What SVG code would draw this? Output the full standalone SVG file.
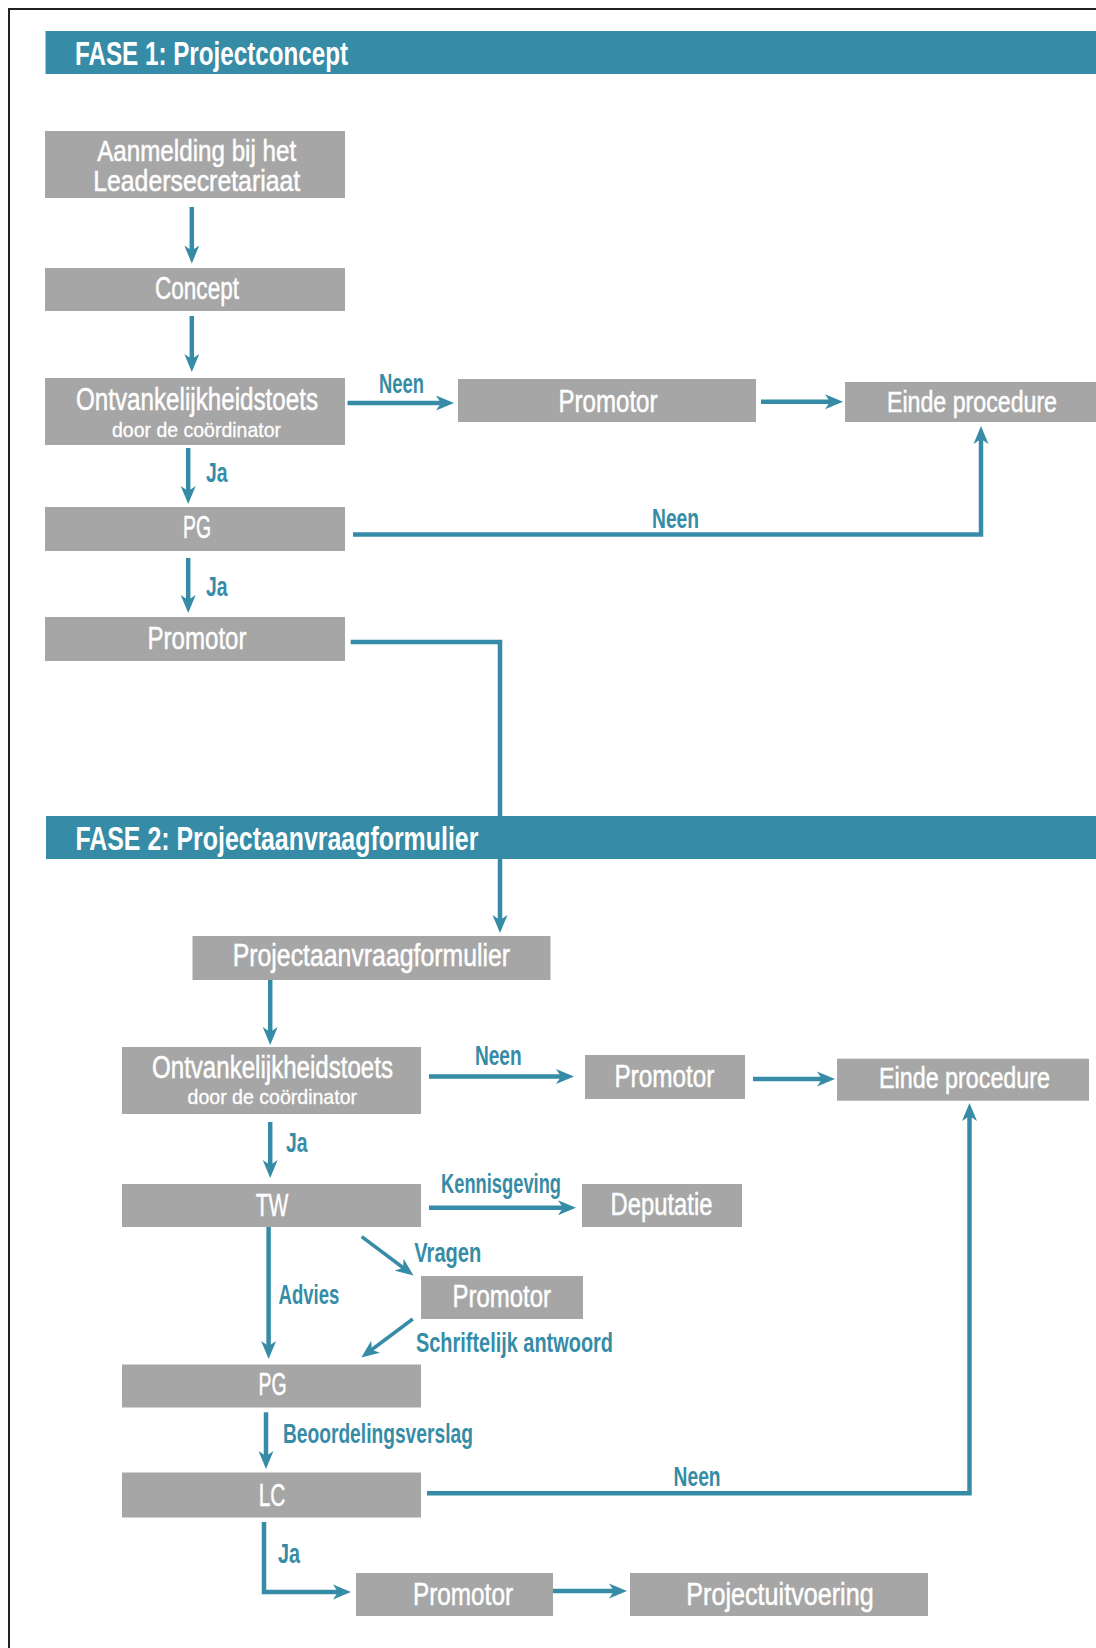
<svg xmlns="http://www.w3.org/2000/svg" width="1096" height="1648" viewBox="0 0 1096 1648">
  <defs>
    <style>
      .banner { fill: #368ca6; }
      .node rect { fill: #a6a6a6; }
      .title { fill: #ffffff; font-family: "Liberation Sans", Arial, sans-serif; font-weight: bold; font-size: 34px; }
      .t { fill: #ffffff; stroke: #ffffff; stroke-width: 0.5; font-family: "Liberation Sans", Arial, sans-serif; font-size: 31px; text-anchor: middle; }
      .t2 { fill: #ffffff; stroke: #ffffff; stroke-width: 0.5; font-family: "Liberation Sans", Arial, sans-serif; font-size: 29px; text-anchor: middle; }
      .e { fill: #ffffff; stroke: #ffffff; stroke-width: 0.5; font-family: "Liberation Sans", Arial, sans-serif; font-size: 29px; text-anchor: middle; }
      .s { fill: #ffffff; stroke: #ffffff; stroke-width: 0.3; font-family: "Liberation Sans", Arial, sans-serif; font-size: 21px; text-anchor: middle; }
      .lbl { fill: #368ca6; font-family: "Liberation Sans", Arial, sans-serif; font-weight: bold; font-size: 27px; }
      .c { fill: none; stroke: #368ca6; stroke-width: 4.5; stroke-linejoin: miter; marker-end: url(#ah); }
      .d { fill: none; stroke: #368ca6; stroke-width: 3.5; marker-end: url(#ah); }
    </style>
    <marker id="ah" markerUnits="userSpaceOnUse" markerWidth="20" markerHeight="16" refX="8" refY="8" orient="auto">
      <path d="M0,0.5 L18,8 L0,15.5 L5,8 Z" fill="#368ca6"/>
    </marker>
  </defs>

  <rect x="0" y="0" width="1096" height="1648" fill="#ffffff"/>
  <rect x="9" y="9" width="1100" height="1650" fill="none" stroke="#222222" stroke-width="2"/>

  <g id="fase1">
    <rect class="banner" x="45.5" y="31" width="1060" height="43"/>
    <text class="title" x="75" y="65" textLength="273" lengthAdjust="spacingAndGlyphs">FASE 1: Projectconcept</text>
  </g>
  <g id="fase2">
    <rect class="banner" x="46" y="816" width="1060" height="43"/>
    <text class="title" x="75.4" y="850" textLength="403" lengthAdjust="spacingAndGlyphs">FASE 2: Projectaanvraagformulier</text>
  </g>

  <g id="connectors">
    <path class="c" d="M191.8,207 V253.5"/>
    <path class="c" d="M191.8,316 V362"/>
    <path class="c" d="M347.5,403 H444"/>
    <path class="c" d="M761,401.7 H833"/>
    <path class="c" d="M188.2,448 V494"/>
    <path class="c" d="M353,534.5 H981 V436"/>
    <path class="c" d="M188.2,558 V603"/>
    <path class="c" d="M350.7,642 H500 V923"/>
    <path class="c" d="M270.2,980 V1035"/>
    <path class="c" d="M429,1076.5 H564"/>
    <path class="c" d="M753,1079 H825"/>
    <path class="c" d="M270.2,1122 V1168"/>
    <path class="c" d="M429,1207.7 H566"/>
    <path class="c" d="M268.6,1227 V1349"/>
    <path class="d" d="M361.7,1236.7 L405.5,1269.5"/>
    <path class="d" d="M412.8,1319 L369.3,1351.5"/>
    <path class="c" d="M266,1412.3 V1459"/>
    <path class="c" d="M427,1493.3 H969.5 V1113"/>
    <path class="c" d="M264,1522 V1592 H341"/>
    <path class="c" d="M553,1591 H617"/>

    <text class="lbl" x="379" y="392.7" textLength="45" lengthAdjust="spacingAndGlyphs">Neen</text>
    <text class="lbl" x="206" y="481.7" textLength="21.5" lengthAdjust="spacingAndGlyphs">Ja</text>
    <text class="lbl" x="652" y="527.7" textLength="47" lengthAdjust="spacingAndGlyphs">Neen</text>
    <text class="lbl" x="206" y="595.7" textLength="21.5" lengthAdjust="spacingAndGlyphs">Ja</text>
    <text class="lbl" x="475" y="1065" textLength="46.6" lengthAdjust="spacingAndGlyphs">Neen</text>
    <text class="lbl" x="286" y="1152" textLength="21.5" lengthAdjust="spacingAndGlyphs">Ja</text>
    <text class="lbl" x="441" y="1192.7" textLength="120" lengthAdjust="spacingAndGlyphs">Kennisgeving</text>
    <text class="lbl" x="278.6" y="1304" textLength="60.7" lengthAdjust="spacingAndGlyphs">Advies</text>
    <text class="lbl" x="414.3" y="1261.7" textLength="67" lengthAdjust="spacingAndGlyphs">Vragen</text>
    <text class="lbl" x="416" y="1351.7" textLength="197" lengthAdjust="spacingAndGlyphs">Schriftelijk antwoord</text>
    <text class="lbl" x="282.9" y="1443.3" textLength="190" lengthAdjust="spacingAndGlyphs">Beoordelingsverslag</text>
    <text class="lbl" x="673.6" y="1486" textLength="47" lengthAdjust="spacingAndGlyphs">Neen</text>
    <text class="lbl" x="278" y="1562.7" textLength="22" lengthAdjust="spacingAndGlyphs">Ja</text>
  </g>

  <g id="aanmelding" class="node">
    <rect x="45" y="131" width="300" height="67"/>
    <text class="t2" x="196.7" y="160.5" textLength="199" lengthAdjust="spacingAndGlyphs">Aanmelding bij het</text>
    <text class="t2" x="196.7" y="190.5" textLength="207" lengthAdjust="spacingAndGlyphs">Leadersecretariaat</text>
  </g>
  <g id="concept" class="node">
    <rect x="45" y="268" width="300" height="43"/>
    <text class="t" x="197" y="299" textLength="84" lengthAdjust="spacingAndGlyphs">Concept</text>
  </g>
  <g id="ontvankelijkheid1" class="node">
    <rect x="45" y="378" width="300" height="67"/>
    <text class="t" x="197" y="410" textLength="242" lengthAdjust="spacingAndGlyphs">Ontvankelijkheidstoets</text>
    <text class="s" x="196.5" y="436.7" textLength="169" lengthAdjust="spacingAndGlyphs">door de coördinator</text>
  </g>
  <g id="promotor1b" class="node">
    <rect x="458" y="379" width="298" height="43"/>
    <text class="t" x="608" y="411.7" textLength="99" lengthAdjust="spacingAndGlyphs">Promotor</text>
  </g>
  <g id="einde1" class="node">
    <rect x="845" y="382" width="251" height="40"/>
    <text class="e" x="972" y="412.2" textLength="170" lengthAdjust="spacingAndGlyphs">Einde procedure</text>
  </g>
  <g id="pg1" class="node">
    <rect x="45" y="507" width="300" height="44"/>
    <text class="t" x="197" y="538" textLength="28" lengthAdjust="spacingAndGlyphs">PG</text>
  </g>
  <g id="promotor1" class="node">
    <rect x="45" y="617" width="300" height="44"/>
    <text class="t" x="197" y="649" textLength="99" lengthAdjust="spacingAndGlyphs">Promotor</text>
  </g>

  <g id="projectaanvraagformulier" class="node">
    <rect x="192.5" y="936" width="358" height="44"/>
    <text class="t" x="371.4" y="965.7" textLength="277.5" lengthAdjust="spacingAndGlyphs">Projectaanvraagformulier</text>
  </g>
  <g id="ontvankelijkheid2" class="node">
    <rect x="122" y="1047" width="299" height="67"/>
    <text class="t" x="272.5" y="1077.7" textLength="241" lengthAdjust="spacingAndGlyphs">Ontvankelijkheidstoets</text>
    <text class="s" x="272.3" y="1104" textLength="169.5" lengthAdjust="spacingAndGlyphs">door de coördinator</text>
  </g>
  <g id="promotor2" class="node">
    <rect x="585" y="1055" width="160" height="44"/>
    <text class="t" x="664.4" y="1086.7" textLength="100" lengthAdjust="spacingAndGlyphs">Promotor</text>
  </g>
  <g id="einde2" class="node">
    <rect x="837" y="1058.7" width="252" height="42"/>
    <text class="e" x="964.5" y="1087.7" textLength="171" lengthAdjust="spacingAndGlyphs">Einde procedure</text>
  </g>
  <g id="tw" class="node">
    <rect x="122" y="1184" width="299" height="43"/>
    <text class="t" x="272" y="1215.7" textLength="32.6" lengthAdjust="spacingAndGlyphs">TW</text>
  </g>
  <g id="deputatie" class="node">
    <rect x="582" y="1184" width="160" height="43"/>
    <text class="t" x="661.5" y="1215" textLength="102" lengthAdjust="spacingAndGlyphs">Deputatie</text>
  </g>
  <g id="promotor3" class="node">
    <rect x="421" y="1276" width="162" height="43"/>
    <text class="t" x="501.8" y="1306.7" textLength="98.5" lengthAdjust="spacingAndGlyphs">Promotor</text>
  </g>
  <g id="pg2" class="node">
    <rect x="122" y="1364.5" width="299" height="43"/>
    <text class="t" x="272.5" y="1395" textLength="28" lengthAdjust="spacingAndGlyphs">PG</text>
  </g>
  <g id="lc" class="node">
    <rect x="122" y="1472.5" width="299" height="45"/>
    <text class="t" x="272" y="1505.7" textLength="26.7" lengthAdjust="spacingAndGlyphs">LC</text>
  </g>
  <g id="promotor4" class="node">
    <rect x="356" y="1573" width="197" height="43"/>
    <text class="t" x="463" y="1605" textLength="100" lengthAdjust="spacingAndGlyphs">Promotor</text>
  </g>
  <g id="projectuitvoering" class="node">
    <rect x="630" y="1573" width="298" height="43"/>
    <text class="t" x="780" y="1605" textLength="187.4" lengthAdjust="spacingAndGlyphs">Projectuitvoering</text>
  </g>
</svg>
